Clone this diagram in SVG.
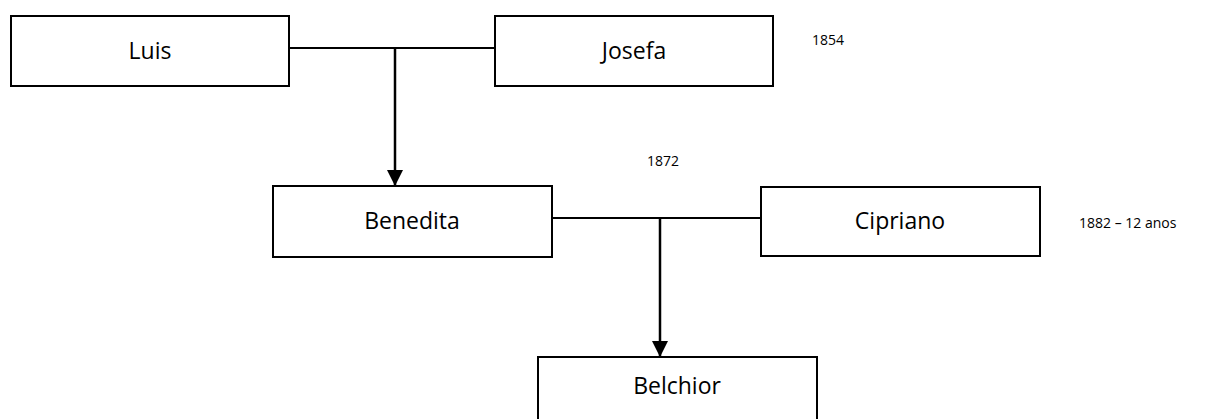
<svg xmlns="http://www.w3.org/2000/svg" width="1212" height="419" viewBox="0 0 1212 419">
<defs>
<style>
.box{fill:#fff;stroke:#000;stroke-width:2}
.name{font-family:"Open Sans",sans-serif;font-size:23px;fill:#000;text-anchor:middle}
.note{font-family:"Open Sans",sans-serif;font-size:14px;fill:#000}
.line{stroke:#000;stroke-width:2;fill:none}
.arr{stroke:#000;stroke-width:2.5;fill:none}
</style>
<marker id="ah" markerWidth="16" markerHeight="16" viewBox="0 0 16 16" refX="16" refY="8" orient="auto" markerUnits="userSpaceOnUse">
<path d="M0,0 L16,8 L0,16 Z" fill="#000"/>
</marker>
</defs>
<rect width="1212" height="419" fill="#fff"/>
<g id="connectors">
<line class="line" x1="289" y1="48" x2="495" y2="48"/>
<line class="arr" x1="395" y1="48" x2="395" y2="186" marker-end="url(#ah)"/>
<line class="line" x1="552" y1="218" x2="761" y2="218"/>
<line class="arr" x1="660" y1="218" x2="660" y2="357" marker-end="url(#ah)"/>
</g>
<g id="luis"><rect class="box" x="11" y="16" width="278" height="70"/><text class="name" x="150" y="59">Luis</text></g>
<g id="josefa"><rect class="box" x="495" y="16" width="278" height="70"/><text class="name" x="634" y="59">Josefa</text></g>
<g id="benedita"><rect class="box" x="273" y="186" width="279" height="71"/><text class="name" x="412" y="229">Benedita</text></g>
<g id="cipriano"><rect class="box" x="761" y="187" width="279" height="69"/><text class="name" x="900" y="229">Cipriano</text></g>
<g id="belchior"><rect class="box" x="538" y="357" width="279" height="80"/><text class="name" x="677" y="394">Belchior</text></g>
<g id="notes">
<text class="note" x="812" y="45">1854</text>
<text class="note" x="647" y="166">1872</text>
<text class="note" x="1079" y="228">1882 – 12 anos</text>
</g>
</svg>
